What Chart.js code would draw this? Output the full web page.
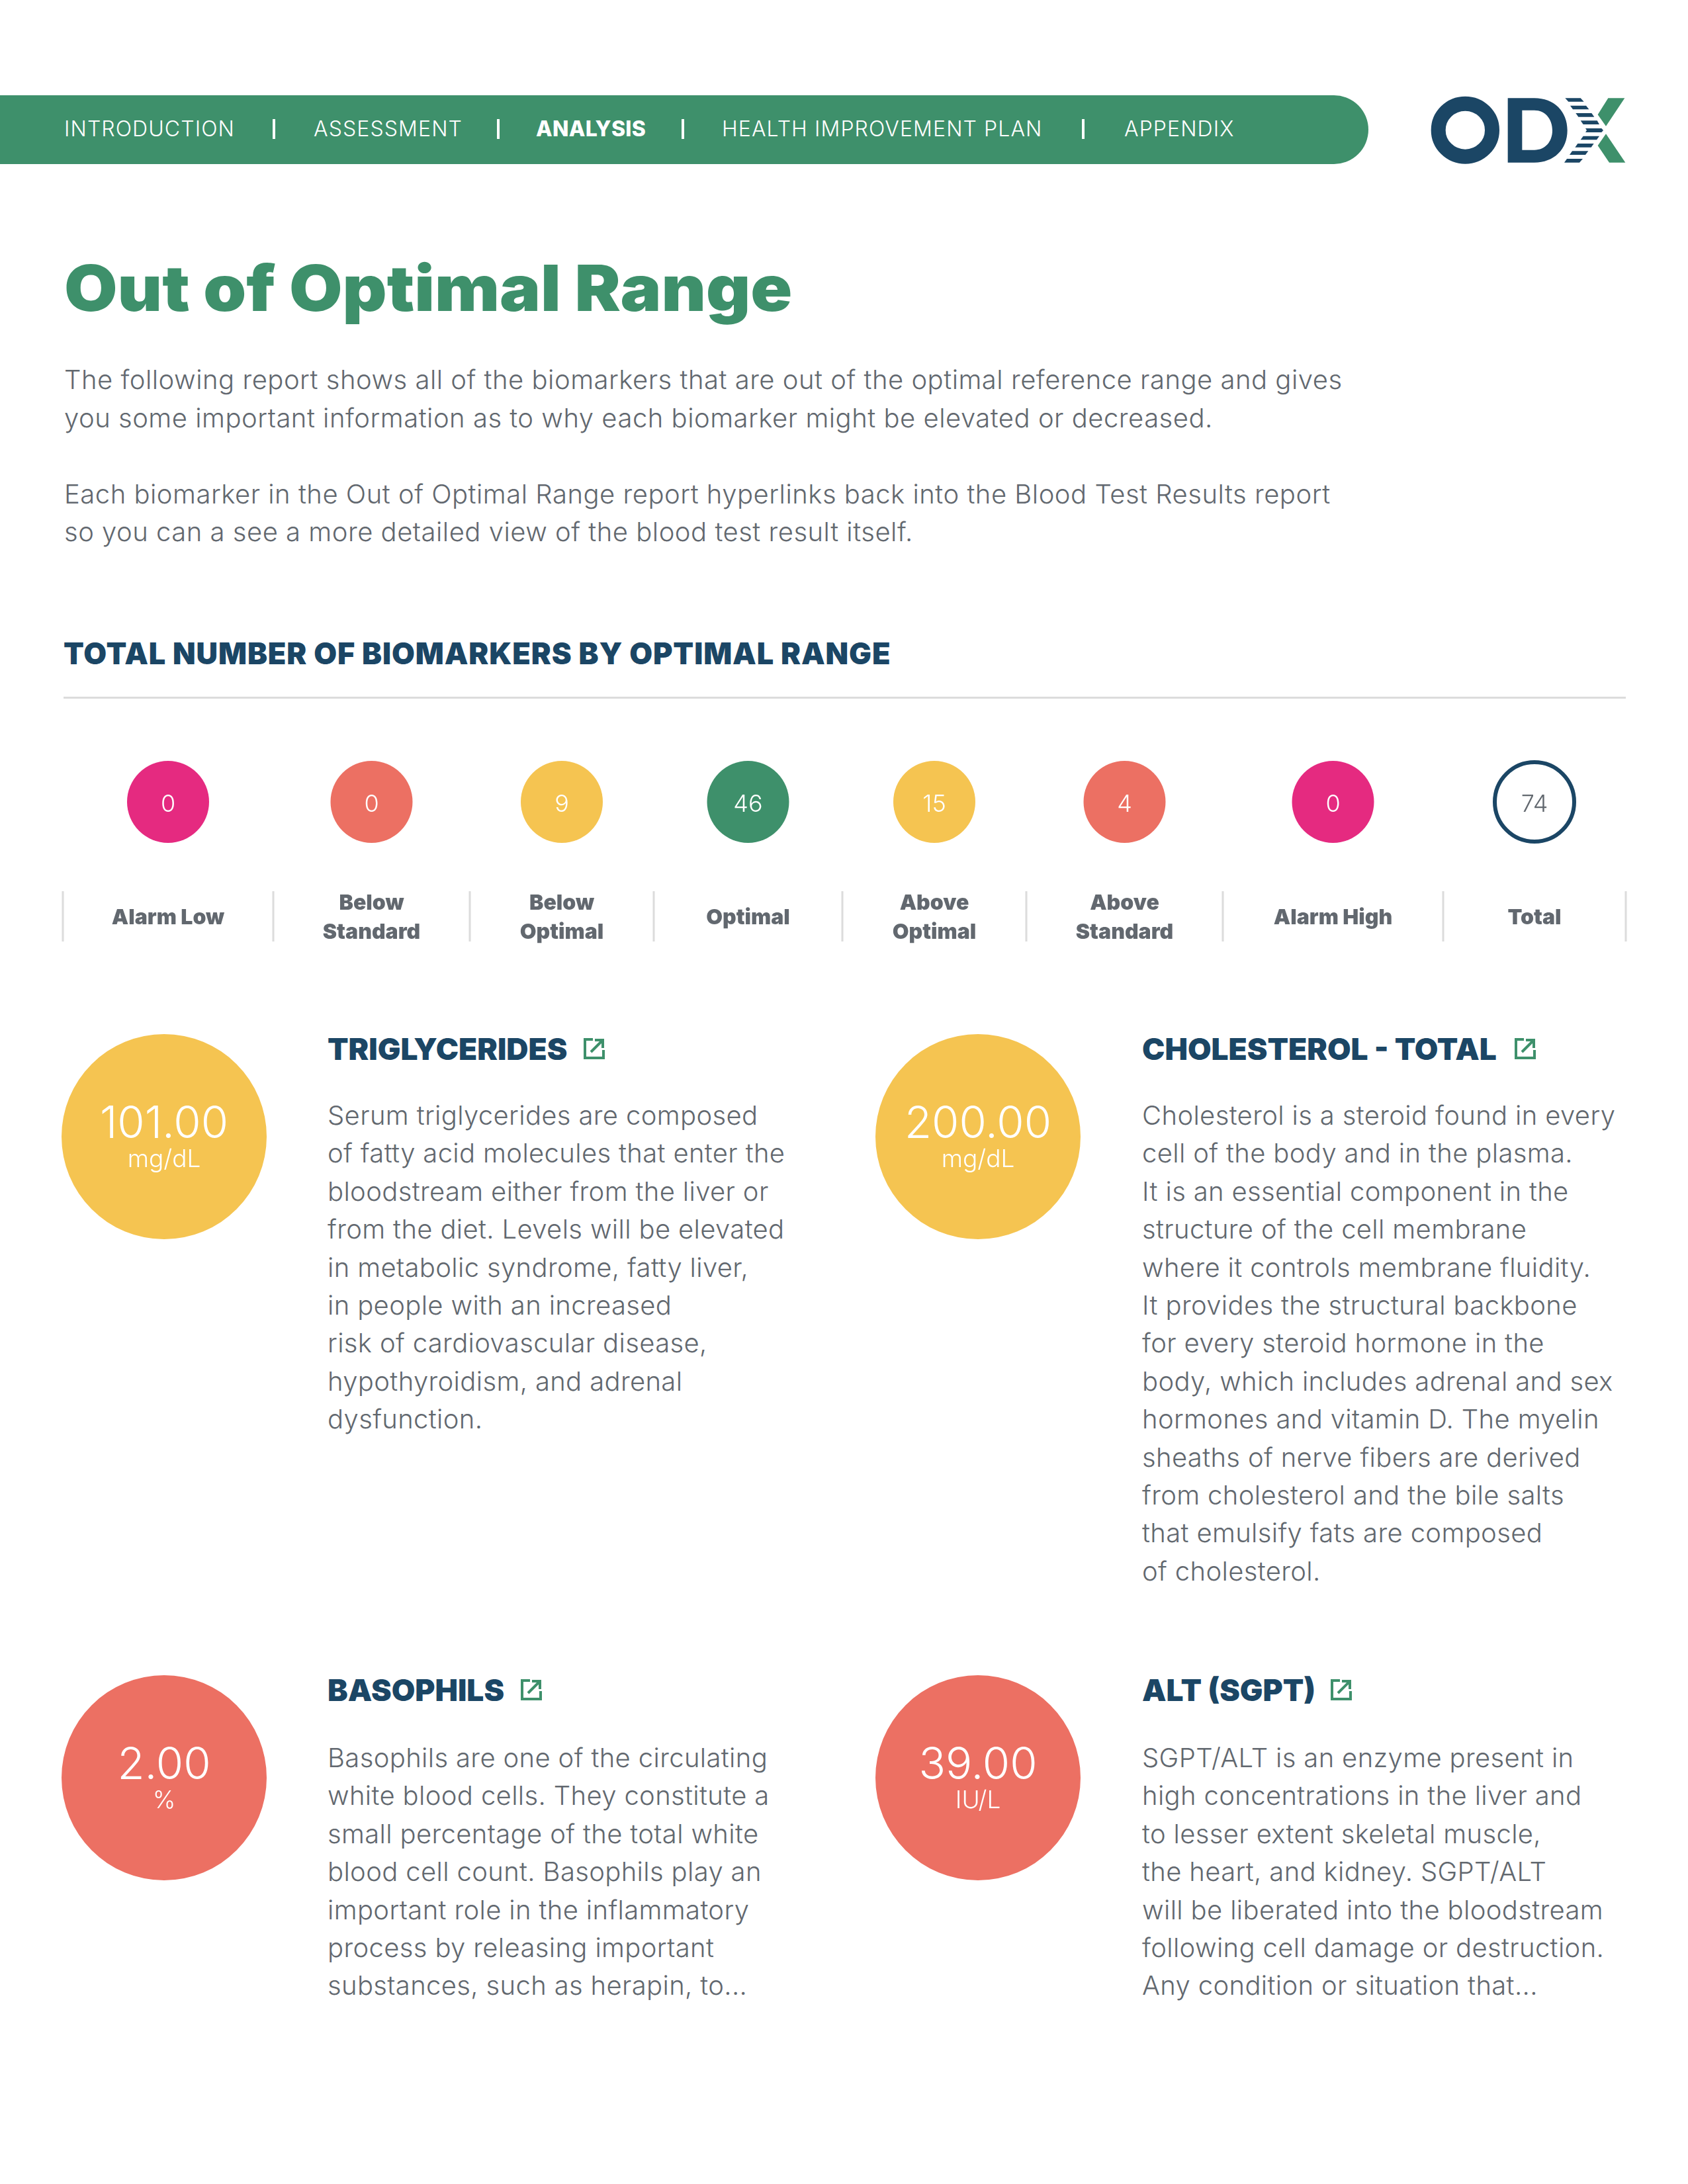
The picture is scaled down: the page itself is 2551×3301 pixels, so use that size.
<!DOCTYPE html>
<html lang="en">
<head>
<meta charset="UTF-8">
<title>Out of Optimal Range</title>
<script src="https://cdn.jsdelivr.net/npm/chart.js"></script>
<style>
html, body { margin: 0; padding: 0; background: #fff; }
#page { position: relative; width: 2551px; height: 3301px; overflow: hidden; font-family: Inter, sans-serif; color: #62686f; }
#page > * { position: absolute; }
.t { white-space: pre; }
#nav { left: 0; top: 144px; width: 2068px; height: 104px; background: #3e906b; border-radius: 0 52px 52px 0; }
.nav { color: #fff; font-size: 32px; line-height: 40px; font-weight: 300; letter-spacing: 1.1px; }
.sep { width: 4px; height: 30px; background: #fff; top: 180px; }
#title { left: 97px; top: 378px; font-size: 96px; line-height: 114px; font-weight: 900; color: #3e906b; transform: scaleX(1.083); transform-origin: left center; }
.body { font-size: 40px; line-height: 57.5px; font-weight: 300; letter-spacing: 0.35px; }
.intro { letter-spacing: 0.5px; }
#heading { left: 96px; top: 960px; font-size: 45px; line-height: 56px; font-weight: 900; letter-spacing: 0.9px; color: #1b4665; }
#rule { left: 96px; top: 1053px; width: 2361px; height: 3px; background: #dcdcdc; }
.name { font-size: 46px; line-height: 56px; font-weight: 900; color: #1b4665; }
canvas { display: block; }
</style>
</head>
<body>
<div id="page">
  <div id="nav"></div>
  <svg id="logo" style="left:2122px;top:120px" width="360" height="150" viewBox="0 0 1080 450" role="img" aria-label="ODX">
    <ellipse cx="277" cy="230" rx="122" ry="120" fill="none" stroke="#1b4665" stroke-width="66"/>
    <path fill="#1b4665" fill-rule="evenodd" d="M470 85H590C680 85 740 145 740 231C740 317 680 377 590 377H470ZM535 140V320H590C640 320 672 282 672 231C672 180 640 140 590 140Z"/>
    <g fill="#1b4665">
      <path d="M730 85H800L815 101H745Z"/><path d="M753 119H825L838 136H765Z"/><path d="M778 153H850L862 170H790Z"/>
      <path d="M800 187H875L885 204H812Z"/><path d="M822 222H895L903 231L895 240H822L828 231Z"/><path d="M812 257H885L873 274H800Z"/>
      <path d="M787 291H860L848 308H775Z"/><path d="M762 325H835L822 342H750Z"/><path d="M738 360H810L795 377H726Z"/>
    </g>
    <g fill="#3e906b"><path d="M925 85H1000L915 212L878 160Z"/><path d="M915 247L1003 377H930L878 300Z"/></g>
  </svg>
  <div id="title" class="t">Out of Optimal Range</div>
  <div id="heading" class="t">TOTAL NUMBER OF BIOMARKERS BY OPTIMAL RANGE</div>
  <div id="rule"></div>
  <canvas id="summary-chart" style="left:0;top:1084px" width="2551" height="346"></canvas>
</div>
<script>
// summary row
const rangeCategories = ['Alarm Low', ['Below', 'Standard'], ['Below', 'Optimal'], 'Optimal', ['Above', 'Optimal'], ['Above', 'Standard'], 'Alarm High', 'Total'];
const rangeCounts = [0, 0, 9, 46, 15, 4, 0, 74];
const rangeColors = ['#e52a80', '#ec7063', '#f5c451', '#3e906b', '#f5c451', '#ec7063', '#e52a80', '#ffffff'];
const columnEdges = [95, 413, 710, 988, 1273, 1551, 1848, 2181, 2457];

// biomarker cards
const biomarkerNames = ['TRIGLYCERIDES', 'CHOLESTEROL - TOTAL', 'BASOPHILS', 'ALT (SGPT)'];
const biomarkerValues = [101.00, 200.00, 2.00, 39.00];
const biomarkerUnits = ['mg/dL', 'mg/dL', '%', 'IU/L'];
const biomarkerColors = ['#f5c451', '#f5c451', '#ec7063', '#ec7063'];
const biomarkerText = [
  ['Serum triglycerides are composed', 'of fatty acid molecules that enter the', 'bloodstream either from the liver or', 'from the diet. Levels will be elevated', 'in metabolic syndrome, fatty liver,', 'in people with an increased', 'risk of cardiovascular disease,', 'hypothyroidism, and adrenal', 'dysfunction.'],
  ['Cholesterol is a steroid found in every', 'cell of the body and in the plasma.', 'It is an essential component in the', 'structure of the cell membrane', 'where it controls membrane fluidity.', 'It provides the structural backbone', 'for every steroid hormone in the', 'body, which includes adrenal and sex', 'hormones and vitamin D. The myelin', 'sheaths of nerve fibers are derived', 'from cholesterol and the bile salts', 'that emulsify fats are composed', 'of cholesterol.'],
  ['Basophils are one of the circulating', 'white blood cells. They constitute a', 'small percentage of the total white', 'blood cell count. Basophils play an', 'important role in the inflammatory', 'process by releasing important', 'substances, such as herapin, to...'],
  ['SGPT/ALT is an enzyme present in', 'high concentrations in the liver and', 'to lesser extent skeletal muscle,', 'the heart, and kidney. SGPT/ALT', 'will be liberated into the bloodstream', 'following cell damage or destruction.', 'Any condition or situation that...']
];

const navItems = ['INTRODUCTION', 'ASSESSMENT', 'ANALYSIS', 'HEALTH IMPROVEMENT PLAN', 'APPENDIX'];
const introLines = [
  'The following report shows all of the biomarkers that are out of the optimal reference range and gives',
  'you some important information as to why each biomarker might be elevated or decreased.',
  '',
  'Each biomarker in the Out of Optimal Range report hyperlinks back into the Blood Test Results report',
  'so you can a see a more detailed view of the blood test result itself.'
];

const page = document.getElementById('page');
function addText(cls, text, x, y) {
  const el = document.createElement('div');
  el.className = 't ' + cls;
  el.textContent = text;
  el.style.left = x + 'px';
  el.style.top = y + 'px';
  page.appendChild(el);
  return el;
}

// nav bar
const navX = [97, 474, 810, 1091, 1699];
const navSepX = [412, 751, 1030, 1635];
navItems.forEach((item, i) => {
  const el = addText('nav', item, navX[i], 175);
  if (item === 'ANALYSIS') { el.style.fontWeight = 800; el.style.letterSpacing = '0.3px'; }
});
navSepX.forEach(x => {
  const s = document.createElement('div');
  s.className = 'sep';
  s.style.left = x + 'px';
  page.appendChild(s);
});

introLines.forEach((line, i) => addText('body intro', line, 97, 545 + i * 57.5));

// cards
const cardX = [248, 1478, 248, 1478];
const cardY = [1718, 1718, 2687, 2687];
const textX = [495, 1726, 495, 1726];
const nameY = [1557, 1557, 2526, 2526];
const lineY = [1657, 1657, 2628, 2628];
const iconGap = [24, 26, 24, 22];

const centerText = {
  id: 'centerText',
  afterDraw(chart) {
    const { ctx, chartArea: a } = chart;
    const cx = (a.left + a.right) / 2, cy = (a.top + a.bottom) / 2;
    ctx.save();
    ctx.fillStyle = '#fff';
    ctx.textAlign = 'center';
    ctx.textBaseline = 'middle';
    ctx.font = '300 67px Inter, sans-serif';
    ctx.fillText(chart.data.datasets[0].data[0].toFixed(2), cx, cy - 18);
    ctx.font = '300 37px Inter, sans-serif';
    ctx.fillText(chart.data.labels[0], cx, cy + 35);
    ctx.restore();
  }
};

biomarkerNames.forEach((name, i) => {
  const nameEl = addText('name', name, textX[i], nameY[i]);
  biomarkerText[i].forEach((line, j) => addText('body', line, textX[i], lineY[i] + j * 57.4));

  const ns = 'http://www.w3.org/2000/svg';
  const icon = document.createElementNS(ns, 'svg');
  icon.setAttribute('width', 34);
  icon.setAttribute('height', 34);
  icon.setAttribute('viewBox', '0 0 34 34');
  icon.style.left = (textX[i] + nameEl.offsetWidth + iconGap[i]) + 'px';
  icon.style.top = (nameY[i] + 11) + 'px';
  icon.innerHTML = '<path d="M15 3H3V31H31V19" fill="none" stroke="#3e906b" stroke-width="4"/><path d="M12 22L28 6M18 4H30V16" fill="none" stroke="#3e906b" stroke-width="4"/>';
  page.appendChild(icon);

  const cv = document.createElement('canvas');
  cv.width = 320;
  cv.height = 320;
  cv.style.left = (cardX[i] - 160) + 'px';
  cv.style.top = (cardY[i] - 160) + 'px';
  page.appendChild(cv);
  new Chart(cv, {
    type: 'pie',
    data: {
      labels: [biomarkerUnits[i]],
      datasets: [{ data: [biomarkerValues[i]], backgroundColor: [biomarkerColors[i]], borderWidth: 0, radius: 155 }]
    },
    options: {
      responsive: false,
      devicePixelRatio: 1,
      animation: false,
      plugins: { legend: { display: false }, tooltip: { enabled: false } }
    },
    plugins: [centerText]
  });
});

// category scale with columns of unequal width
class ColumnScale extends Chart.CategoryScale {
  getPixelForValue(value) {
    const i = typeof value === 'number' ? value : this.parse(value);
    return (columnEdges[i] + columnEdges[i + 1]) / 2;
  }
}
ColumnScale.id = 'column';
ColumnScale.defaults = Chart.CategoryScale.defaults;
Chart.register(ColumnScale);

const summaryMarks = {
  id: 'summaryMarks',
  afterDraw(chart) {
    const { ctx, scales: { x } } = chart;
    ctx.save();
    ctx.fillStyle = '#dcdcdc';
    columnEdges.forEach(e => ctx.fillRect(e - 1.5, x.top + 7, 3, 76));
    ctx.textAlign = 'center';
    ctx.textBaseline = 'middle';
    ctx.font = '300 36px Inter, sans-serif';
    chart.getDatasetMeta(0).data.forEach((pt, i) => {
      ctx.fillStyle = i === rangeCounts.length - 1 ? '#62686f' : '#fff';
      ctx.fillText(rangeCounts[i], pt.x, pt.y + 4);
    });
    ctx.restore();
  }
};

new Chart(document.getElementById('summary-chart'), {
  type: 'line',
  data: {
    labels: rangeCategories,
    datasets: [{
      data: rangeCategories.map((c, i) => ({ x: i, y: 'Count', count: rangeCounts[i] })),
      showLine: false,
      pointRadius: rangeCounts.map((c, i) => i === rangeCounts.length - 1 ? 60 : 62),
      pointBackgroundColor: rangeColors,
      pointBorderColor: rangeCounts.map((c, i) => i === rangeCounts.length - 1 ? '#1b4665' : rangeColors[i]),
      pointBorderWidth: rangeCounts.map((c, i) => i === rangeCounts.length - 1 ? 6 : 0),
      clip: false
    }]
  },
  options: {
    responsive: false,
    devicePixelRatio: 1,
    animation: false,
    layout: { padding: 0, autoPadding: false },
    plugins: { legend: { display: false }, tooltip: { enabled: false } },
    scales: {
      x: {
        type: 'column',
        offset: true,
        grid: { display: false },
        border: { display: false },
        afterFit(s) { s.height = 90; s.paddingLeft = 0; s.paddingRight = 0; },
        ticks: {
          autoSkip: false,
          maxRotation: 0,
          padding: 17,
          crossAlign: 'center',
          color: '#62686f',
          font: { family: 'Inter, sans-serif', size: 32, weight: 900, lineHeight: '44px' }
        }
      },
      y: { type: 'category', labels: ['Count'], offset: true, display: false }
    }
  },
  plugins: [summaryMarks]
});
</script>
</body>
</html>
